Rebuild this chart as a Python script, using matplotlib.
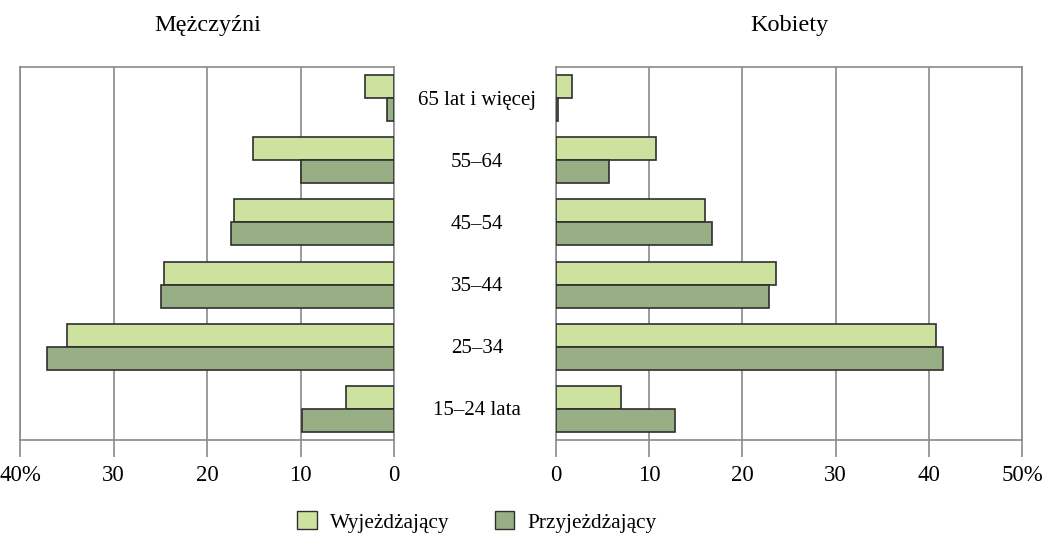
import numpy as np
import matplotlib.pyplot as plt
from matplotlib.patches import Patch

plt.rcParams['font.family'] = ['Liberation Serif', 'DejaVu Serif']

# Age groups, bottom to top
groups = ['15–24 lata', '25–34', '35–44', '45–54', '55–64', '65 lat i więcej']

# Men (Mężczyźni), percent
men_out = [5.1, 35.0, 24.6, 17.1, 15.1, 3.1]
men_in = [9.8, 37.1, 24.9, 17.4, 9.9, 0.75]

# Women (Kobiety), percent
women_out = [7.0, 40.8, 23.6, 16.0, 10.7, 1.75]
women_in = [12.75, 41.5, 22.9, 16.75, 5.7, 0.2]

light = '#cde29f'
dark = '#98af85'
edge = '#2f2f2f'
grid_c = '#8a8a8a'

fig = plt.figure(figsize=(10.51, 5.34), dpi=100)
ax_l = fig.add_axes([20 / 1051, 1 - 440 / 534, 374 / 1051, 373 / 534])
ax_r = fig.add_axes([556 / 1051, 1 - 440 / 534, 466 / 1051, 373 / 534])

y = np.arange(len(groups))
h = 0.37

for ax, out, inn in [(ax_l, men_out, men_in), (ax_r, women_out, women_in)]:
    ax.barh(y + h / 2, out, height=h, color=light, edgecolor=edge, linewidth=1.2, zorder=3)
    ax.barh(y - h / 2, inn, height=h, color=dark, edgecolor=edge, linewidth=1.2, zorder=3)
    ax.set_ylim(-0.5, len(groups) - 0.5)
    ax.set_yticks([])
    ax.grid(axis='x', color=grid_c, linewidth=1.2, zorder=0)
    for s in ax.spines.values():
        s.set_color(grid_c)
        s.set_linewidth(1.2)
    ax.tick_params(axis='x', length=12, width=1.2, color=grid_c, labelsize=16.5, pad=6)

ax_l.set_xlim(40, 0)
ax_l.set_xticks([40, 30, 20, 10, 0])
ax_l.set_xticklabels(['40%', '30', '20', '10', '0'])

ax_r.set_xlim(0, 50)
ax_r.set_xticks([0, 10, 20, 30, 40, 50])
ax_r.set_xticklabels(['0', '10', '20', '30', '40', '50%'])

# Age labels in the gap between the panels
for yi, g in zip(y, groups):
    ax_l.annotate(g, xy=(0, yi), xycoords='data', xytext=(83, -2),
                  textcoords='offset pixels', ha='center', va='center',
                  fontsize=15, annotation_clip=False)

fig.text(208 / 1051, 1 - 26 / 534, 'Mężczyźni', ha='center', va='center', fontsize=17.5)
fig.text(789 / 1051, 1 - 26 / 534, 'Kobiety', ha='center', va='center', fontsize=17.5)

handles = [Patch(facecolor=light, edgecolor=edge, label='Wyjeżdżający'),
           Patch(facecolor=dark, edgecolor=edge, label='Przyjeżdżający')]
fig.legend(handles=handles, loc='center', bbox_to_anchor=(477 / 1051, 1 - 522 / 534),
           ncol=2, frameon=False, fontsize=15.3, handlelength=0.9, handleheight=0.9,
           columnspacing=2.1, handletextpad=0.65)

fig.savefig('out.png', dpi=100)
